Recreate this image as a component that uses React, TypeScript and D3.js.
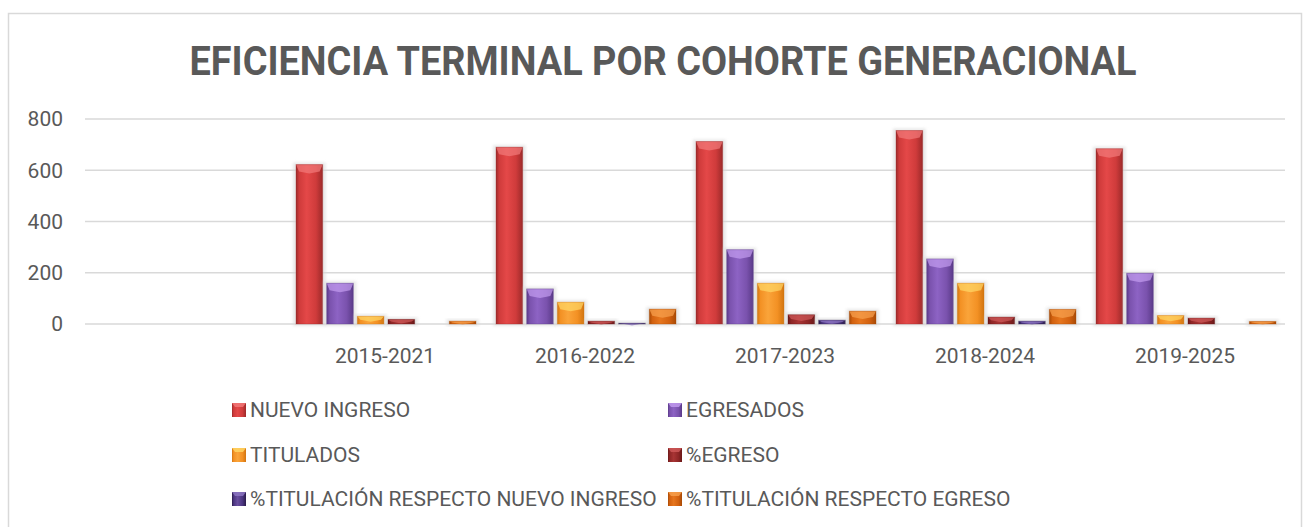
import React from "react";
import * as d3 from "d3";

// ---- data ----
const categories = ["", "2015-2021", "2016-2022", "2017-2023", "2018-2024", "2019-2025"];
const cohorts = ["2015-2021", "2016-2022", "2017-2023", "2018-2024", "2019-2025"];
const nuevoIngreso = [622, 690, 712, 755, 684];
const egresados = [159, 137, 290, 254, 198];
const titulados = [30, 85, 159, 159, 33];
const pctEgreso = [18, 11, 36, 27, 23];
const pctTitNuevoIngreso = [0, 3, 15, 11, 0];
const pctTitEgreso = [11, 58, 50, 57, 10];
const seriesNames = [
  "NUEVO INGRESO",
  "EGRESADOS",
  "TITULADOS",
  "%EGRESO",
  "%TITULACIÓN RESPECTO NUEVO INGRESO",
  "%TITULACIÓN RESPECTO EGRESO",
];
const seriesValues = [nuevoIngreso, egresados, titulados, pctEgreso, pctTitNuevoIngreso, pctTitEgreso];
const yTicks = [0, 200, 400, 600, 800];
const title = "EFICIENCIA TERMINAL POR COHORTE GENERACIONAL";

const palette = [
  { edge: "#9c2a2a", light: "#e44848", mid: "#cf3b3b", cap: "#f27a7a" },
  { edge: "#5a3a88", light: "#8d63c4", mid: "#7a52ad", cap: "#c39cf0" },
  { edge: "#d27510", light: "#faa43a", mid: "#f39124", cap: "#ffd866" },
  { edge: "#6a1818", light: "#a83434", mid: "#8e2626", cap: "#cf5a5a" },
  { edge: "#2a1b4a", light: "#6a4fa0", mid: "#4b3580", cap: "#8f78c4" },
  { edge: "#a84a06", light: "#e6761e", mid: "#d36210", cap: "#f8a250" },
];

const TEXT = "#595959";
const FONT = "Roboto, 'Liberation Sans', sans-serif";

export default function App() {
  const W = 1305;
  const H = 527;
  const x0 = d3.scaleBand<string>().domain(categories).range([85, 1285]);
  const x1 = d3.scaleBand<string>().domain(seriesNames).range([11, 191]).paddingInner(0.13);
  const y = d3.scaleLinear().domain([0, 800]).range([324, 119]);
  const bw = x1.bandwidth();

  const legendCols = [232, 668];
  const legendRows = [410, 455, 499];

  return (
    <svg
      width={W}
      height={H}
      style={{ position: "absolute", left: 0, top: 0, background: "#fff" }}
      fontFamily={FONT}
    >
      <defs>
        {palette.map((c, i) => (
          <linearGradient key={i} id={`grad${i}`} x1="0" x2="1" y1="0" y2="0">
            <stop offset="0" stopColor={c.edge} />
            <stop offset="0.12" stopColor={c.mid} />
            <stop offset="0.4" stopColor={c.light} />
            <stop offset="0.75" stopColor={c.mid} />
            <stop offset="1" stopColor={c.edge} />
          </linearGradient>
        ))}
        <filter id="halo" x="-30%" y="-10%" width="160%" height="120%">
          <feGaussianBlur stdDeviation="1.5" />
        </filter>
      </defs>

      <rect x={8.5} y={13.5} width={1293} height={600} fill="#fff" stroke="#d9d9d9" strokeWidth={1.5} />

      <text
        x={663}
        y={75}
        textAnchor="middle"
        fontSize={40}
        fontWeight="bold"
        fill={TEXT}
        textLength={947}
        lengthAdjust="spacingAndGlyphs"
      >
        {title}
      </text>

      {yTicks.map((t) => (
        <g key={t}>
          <line x1={85} x2={1285} y1={y(t)} y2={y(t)} stroke="#d9d9d9" strokeWidth={1.6} />
          <text x={63} y={y(t)} dy="0.35em" textAnchor="end" fontSize={21} fill={TEXT}>
            {t}
          </text>
        </g>
      ))}

      {cohorts.map((cat, ci) => {
        const gx = x0(cat)!;
        return (
          <g key={cat}>
            {seriesValues.map((vals, si) => {
              const v = vals[ci];
              if (!v) return null;
              const bx = gx + x1(seriesNames[si])!;
              const top = y(v);
              const h = y(0) - top;
              const c = palette[si];
              const capH = Math.min(7, h * 0.45);
              return (
                <g key={si}>
                  <rect
                    x={bx - 3}
                    y={top - 2}
                    width={bw + 6}
                    height={h + 4}
                    fill="#d8d8d8"
                    opacity={0.6}
                    filter="url(#halo)"
                  />
                  <rect x={bx} y={top} width={bw} height={h} fill={`url(#grad${si})`} />
                  <path
                    d={`M${bx},${top} L${bx + bw},${top} L${bx + bw - 3},${top + capH} L${bx + bw / 2},${top + capH + 2} L${bx + 3},${top + capH} Z`}
                    fill={c.cap}
                    opacity={0.7}
                  />
                  <rect x={bx} y={top} width={bw} height={h} fill="none" stroke={c.edge} strokeOpacity={0.35} strokeWidth={1} />
                </g>
              );
            })}
            <text x={gx + x0.bandwidth() / 2} y={363} textAnchor="middle" fontSize={21} fill={TEXT}>
              {cat}
            </text>
          </g>
        );
      })}

      {seriesNames.map((name, i) => {
        const lx = legendCols[i % 2];
        const ly = legendRows[Math.floor(i / 2)];
        const c = palette[i];
        return (
          <g key={name}>
            <rect x={lx} y={ly - 7} width={14} height={14} fill={`url(#grad${i})`} />
            <path d={`M${lx},${ly - 7} L${lx + 14},${ly - 7} L${lx + 11},${ly - 3} L${lx + 3},${ly - 3} Z`} fill={c.cap} opacity={0.8} />
            <text x={lx + 18} y={ly} dy="0.35em" fontSize={21} fill={TEXT}>
              {name}
            </text>
          </g>
        );
      })}
    </svg>
  );
}
